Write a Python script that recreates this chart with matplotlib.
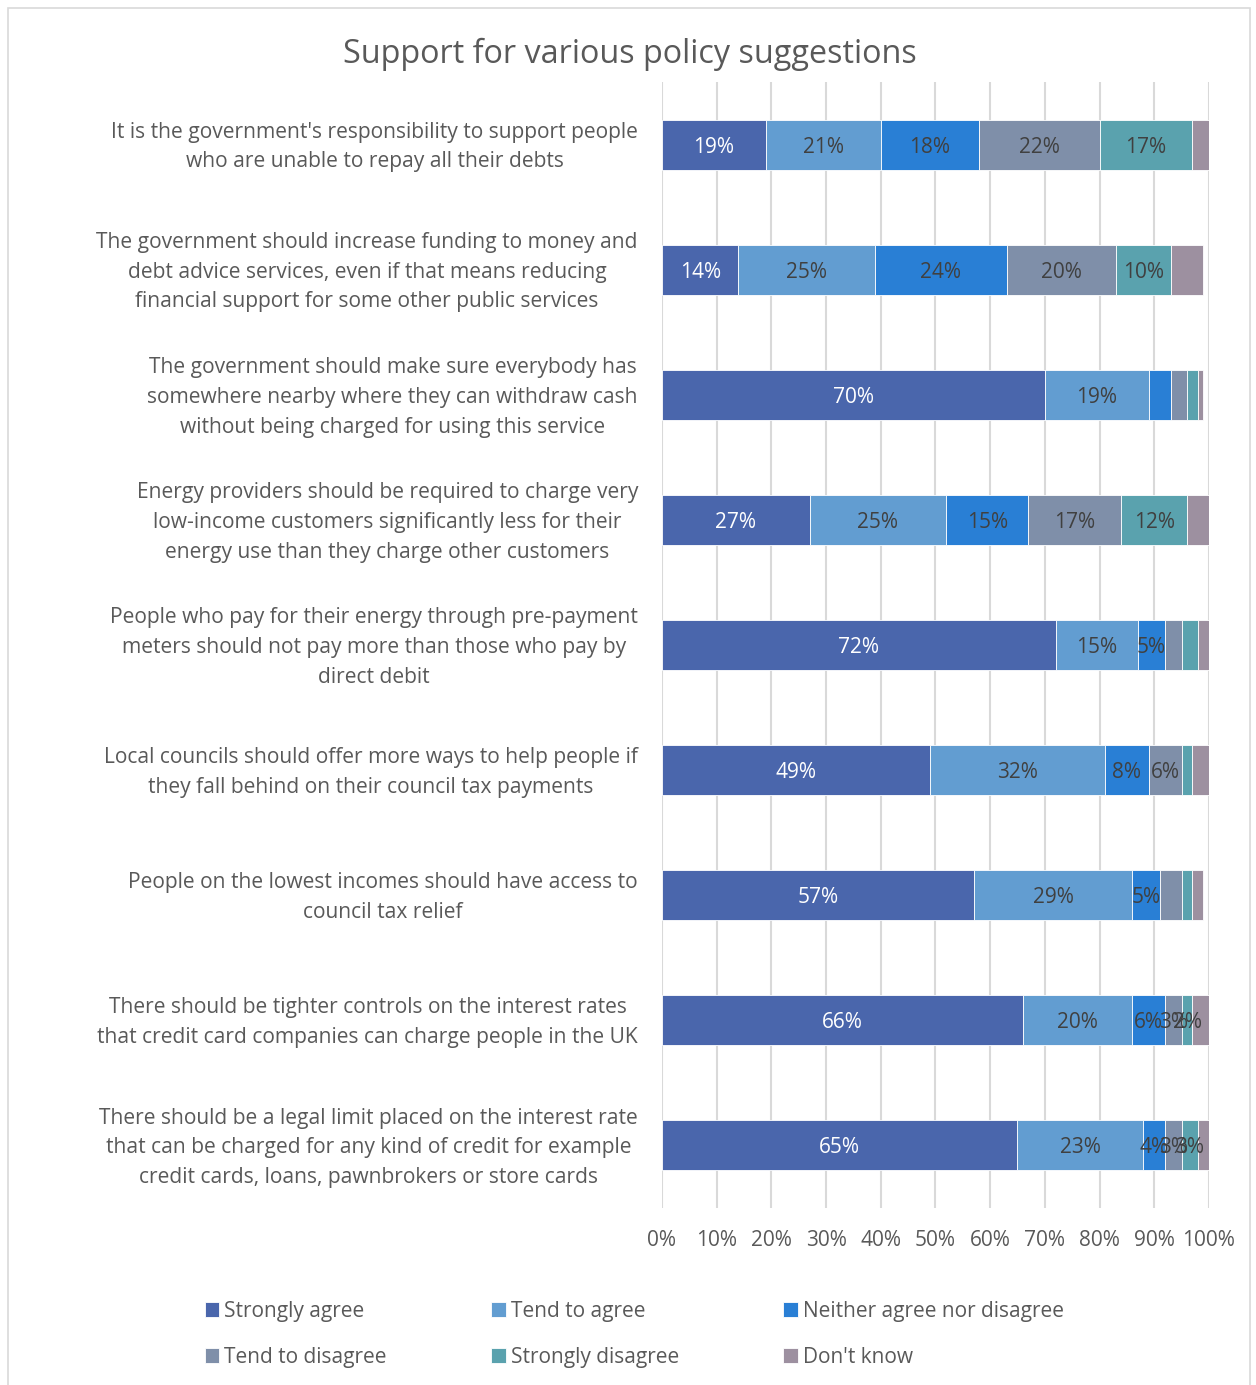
import numpy as np
import matplotlib.pyplot as plt
from matplotlib.patches import Rectangle
from matplotlib.transforms import ScaledTranslation

plt.rcParams['font.family'] = ['Open Sans', 'DejaVu Sans']

statements = [
    "It is the government's responsibility to support people\nwho are unable to repay all their debts",
    "The government should increase funding to money and\ndebt advice services, even if that means reducing\nfinancial support for some other public services",
    "The government should make sure everybody has\nsomewhere nearby where they can withdraw cash\nwithout being charged for using this service",
    "Energy providers should be required to charge very\nlow-income customers significantly less for their\nenergy use than they charge other customers",
    "People who pay for their energy through pre-payment\nmeters should not pay more than those who pay by\ndirect debit",
    "Local councils should offer more ways to help people if\nthey fall behind on their council tax payments",
    "People on the lowest incomes should have access to\ncouncil tax relief",
    "There should be tighter controls on the interest rates\nthat credit card companies can charge people in the UK",
    "There should be a legal limit placed on the interest rate\nthat can be charged for any kind of credit for example\ncredit cards, loans, pawnbrokers or store cards",
]

responses = ["Strongly agree", "Tend to agree", "Neither agree nor disagree",
             "Tend to disagree", "Strongly disagree", "Don't know"]

strongly_agree = [19, 14, 70, 27, 72, 49, 57, 66, 65]
tend_to_agree = [21, 25, 19, 25, 15, 32, 29, 20, 23]
neither = [18, 24, 4, 15, 5, 8, 5, 6, 4]
tend_to_disagree = [22, 20, 3, 17, 3, 6, 4, 3, 3]
strongly_disagree = [17, 10, 2, 12, 3, 2, 2, 2, 3]
dont_know = [3, 6, 1, 4, 2, 3, 2, 3, 2]

# extra small segments that still carry a data label (row, series)
labelled = {(8, 2), (8, 3), (8, 4), (7, 3), (7, 4)}

colors = ['#4a66ac', '#629dd1', '#297fd5', '#7f8fa9', '#5aa2ae', '#9d90a0']

series = [strongly_agree, tend_to_agree, neither, tend_to_disagree,
          strongly_disagree, dont_know]

fig = plt.figure(figsize=(12.56, 13.85), dpi=100)
ax = fig.add_axes([0.527, 0.1278, 0.4355, 0.813])

# outer chart border
fig.patches.append(Rectangle((8 / 1256, -0.01), 1242 / 1256, 1 - 8 / 1385 + 0.01,
                             transform=fig.transFigure, fill=False,
                             edgecolor='#d9d9d9', linewidth=1.2))

y = np.arange(len(statements))
left = np.zeros(len(statements))
for i, (name, vals) in enumerate(zip(responses, series)):
    vals = np.array(vals, dtype=float)
    ax.barh(y, vals, left=left, height=0.4, color=colors[i], label=name,
            edgecolor='white', linewidth=0.6, zorder=3)
    for r, v in enumerate(vals):
        show = (i < 5 and v >= 5) or (r, i) in labelled
        if show:
            ax.text(left[r] + v / 2, r, f'{int(v)}%', ha='center',
                    va='center_baseline', fontsize=15,
                    color='white' if i == 0 else '#404040', zorder=4)
    left += vals

ax.set_xlim(0, 100)
ax.set_ylim(len(statements) - 0.5, -0.5)
ax.set_xticks(np.arange(0, 101, 10))
ax.set_xticklabels([f'{t}%' for t in range(0, 101, 10)], fontsize=15, color='#595959')
ax.set_yticks(y)
ax.set_yticklabels([])

# category labels, centred line by line, right edge just left of the axis
shift = ScaledTranslation(-24 / 100, -2.5 / 100, fig.dpi_scale_trans)
for r, s in enumerate(statements):
    ax.text(0, r, s, transform=ax.get_yaxis_transform() + shift, ha='right',
            va='center', multialignment='center', linespacing=1.55,
            fontsize=15.1, color='#595959')

ax.tick_params(axis='both', length=0)
ax.tick_params(axis='x', pad=16)
ax.grid(axis='x', color='#d9d9d9', linewidth=1.5, zorder=0)
for sp in ax.spines.values():
    sp.set_visible(False)

fig.text(0.5016, 0.9605, 'Support for various policy suggestions', ha='center',
         va='center', fontsize=23.3, color='#595959')

# legend filled row by row: three entries per row
handles, labels = ax.get_legend_handles_labels()
order = [0, 3, 1, 4, 2, 5]
fig.legend([handles[k] for k in order], [labels[k] for k in order],
           loc='center', bbox_to_anchor=(0.505, 0.0365), ncol=3,
           frameon=False, fontsize=15, labelcolor='#595959', handlelength=0.7,
           handleheight=0.7, handletextpad=0.25, columnspacing=5.0, labelspacing=1.2)

fig.savefig('out.png', dpi=100)
